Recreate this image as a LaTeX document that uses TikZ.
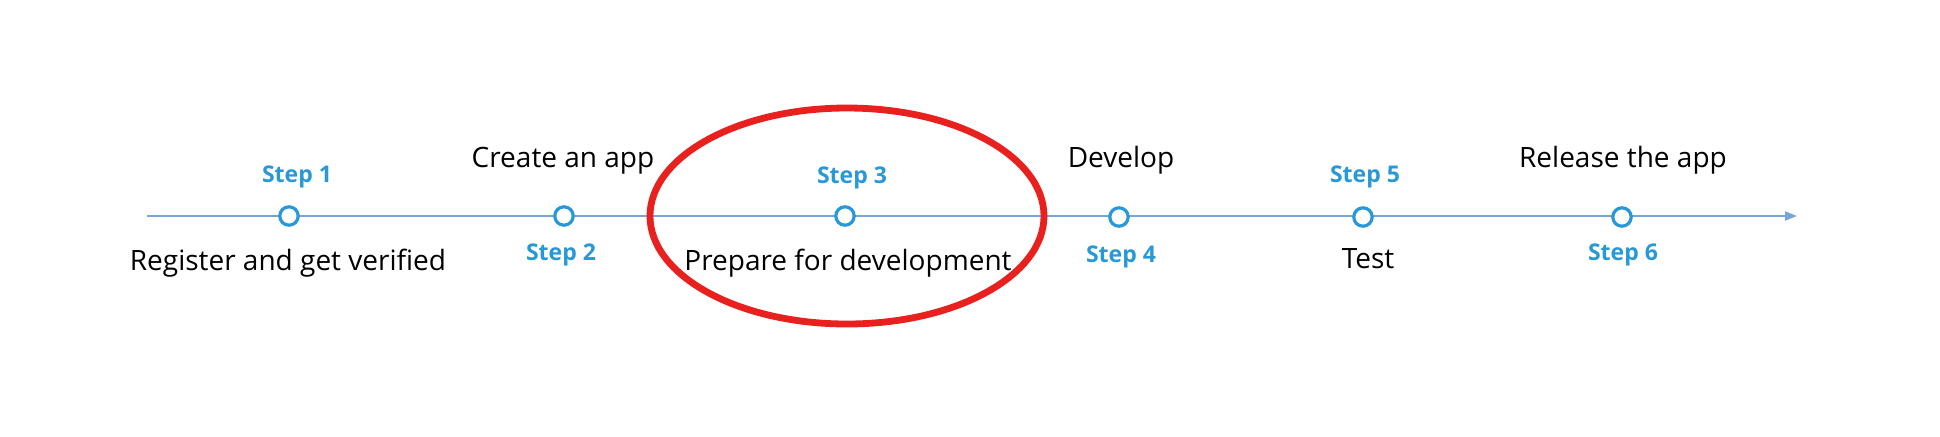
\documentclass[tikz,border=0pt]{standalone}
\usepackage{fontspec}
\setmainfont{Open Sans}
\usetikzlibrary{arrows.meta}

\definecolor{stepblue}{RGB}{40,152,214}
\definecolor{lineblue}{RGB}{118,165,216}
\definecolor{markred}{RGB}{232,32,30}

\tikzset{
  timeline/.style={draw=lineblue, line width=1pt, -{Triangle[length=6pt,width=4.5pt]}},
  stepdot/.style={circle, draw=stepblue, fill=white, line width=1.6pt, minimum size=9.2pt, inner sep=0pt},
  steplbl/.style={anchor=base, inner sep=0.75pt, text=stepblue, font=\fontsize{11.5}{13}\selectfont\bfseries},
  tasklbl/.style={anchor=base, inner sep=0.75pt, text=black, font=\fontsize{14}{16}\selectfont},
  focusring/.style={draw=markred, line width=3.4pt}
}

\begin{document}
\begin{tikzpicture}[x=0.5pt,y=0.5pt,yscale=-1,xscale=1]
\useasboundingbox (0,0) rectangle (1940,436);

%Straight Lines
\coordinate (start) at (147,216);
\coordinate (end) at (1797,216);
\draw [timeline] (start) -- (end);

%Shape: Circle
\node [stepdot] (s1) at (289,216) {};
\node [stepdot] (s2) at (564,216) {};
\node [stepdot] (s3) at (845,216) {};
\node [stepdot] (s4) at (1119,217) {};
\node [stepdot] (s5) at (1363,217) {};
\node [stepdot] (s6) at (1622,217) {};

%Shape: Ellipse
\draw [focusring] (847,216) ellipse [x radius=197, y radius=108];

% Text Node
\node [steplbl] (step1) at (297,182) {Step 1};
% Text Node
\node [tasklbl] (task1) at (288,270) {Register and get verified};
% Text Node
\node [tasklbl] (task2) at (563,167) {Create an app};
% Text Node
\node [steplbl] (step2) at (561,260) {Step 2};
% Text Node
\node [steplbl] (step3) at (852,183) {Step 3};
% Text Node
\node [tasklbl] (task3) at (848,270) {Prepare for development};
% Text Node
\node [tasklbl] (task4) at (1121,167) {Develop};
% Text Node
\node [steplbl] (step4) at (1121,262) {Step 4};
% Text Node
\node [steplbl] (step5) at (1365,182) {Step 5};
% Text Node
\node [tasklbl] (task5) at (1368,268) {Test};
% Text Node
\node [tasklbl] (task6) at (1623,167) {Release the app};
% Text Node
\node [steplbl] (step6) at (1623,260) {Step 6};

\end{tikzpicture}
\end{document}
